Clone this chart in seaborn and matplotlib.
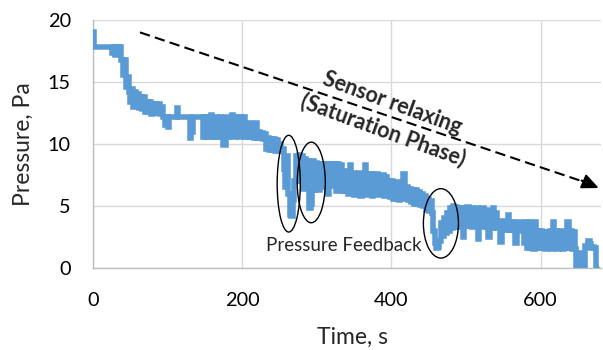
import numpy as np
import pandas as pd
import matplotlib
matplotlib.use("Agg")
import matplotlib.pyplot as plt
from matplotlib.patches import Ellipse
import seaborn as sns

sample_step_s = 2
pressure_pa = [
    19.0, 17.8, 17.8, 17.8, 17.8, 17.8, 17.8, 17.8, 17.8, 17.8, 17.8, 17.8, 17.8, 17.3, 17.8, 17.2, 17.8, 17.3, 17.8, 16.8,
    15.6, 16.8, 14.6, 15.4, 14.2, 13.4, 14.4, 13.0, 14.2, 13.1, 14.0, 12.9, 13.8, 12.8, 13.8, 12.6, 13.4, 12.6, 13.4, 12.4,
    13.2, 12.5, 13.2, 12.5, 13.2, 12.4, 13.0, 12.2, 11.5, 12.2, 11.4, 12.2, 12.2, 12.2, 12.2, 12.2, 12.9, 12.2, 12.2, 12.2,
    12.2, 12.2, 12.2, 12.2, 12.2, 10.5, 11.0, 12.2, 12.2, 12.2, 12.2, 12.2, 12.2, 12.2, 10.6, 12.2, 10.6, 12.2, 10.7, 12.3,
    10.6, 11.4, 10.6, 12.2, 10.7, 12.2, 10.6, 9.9, 9.9, 12.2, 10.6, 11.4, 10.7, 12.3, 10.6, 12.2, 10.7, 12.2, 10.6, 12.2,
    10.7, 12.2, 10.6, 11.6, 10.6, 11.7, 10.6, 11.0, 10.5, 11.7, 10.5, 11.0, 10.5, 10.9, 10.4, 10.8, 9.6, 10.5, 9.5, 10.4,
    9.5, 10.4, 9.4, 10.3, 9.4, 10.0, 9.4, 9.6, 8.0, 6.5, 9.0, 6.0, 4.3, 4.2, 5.5, 7.0, 9.0, 8.4, 9.1, 7.0,
    9.0, 6.4, 8.8, 6.8, 8.6, 4.8, 5.2, 8.6, 6.3, 8.5, 6.8, 6.3, 8.4, 6.5, 8.4, 6.8, 8.4, 6.0, 8.4, 6.6,
    8.4, 7.2, 8.4, 6.2, 8.4, 6.6, 8.3, 6.2, 7.8, 6.2, 7.6, 6.0, 8.3, 6.1, 7.7, 5.9, 7.6, 6.0, 7.7, 5.8,
    7.6, 6.0, 8.3, 5.9, 7.6, 6.2, 7.6, 5.8, 7.5, 6.0, 7.6, 5.9, 7.4, 6.1, 7.5, 5.8, 7.3, 6.0, 7.0, 5.7,
    7.0, 5.6, 6.8, 5.6, 6.9, 5.5, 6.6, 5.6, 7.6, 5.7, 6.5, 5.5, 6.4, 5.3, 6.3, 5.2, 6.3, 5.2, 6.1, 5.1,
    6.0, 5.0, 5.8, 4.7, 5.6, 4.6, 5.4, 4.4, 3.0, 2.0, 1.6, 1.7, 2.2, 3.6, 2.6, 4.0, 2.8, 4.4, 3.0, 4.8,
    3.2, 5.0, 3.3, 4.9, 3.3, 4.8, 3.3, 4.8, 2.5, 4.8, 3.4, 4.9, 3.4, 4.8, 3.3, 4.7, 3.4, 4.8, 2.3, 4.7,
    3.4, 4.8, 3.3, 4.7, 3.3, 2.5, 4.6, 3.2, 4.8, 4.1, 4.4, 3.2, 3.8, 2.1, 3.7, 3.2, 3.8, 3.1, 4.3, 3.1,
    3.7, 3.1, 3.7, 2.0, 3.6, 3.1, 3.7, 3.0, 3.6, 2.0, 3.7, 1.6, 3.7, 1.6, 3.0, 1.5, 3.7, 1.6, 3.0, 1.6,
    3.0, 1.6, 2.9, 1.5, 2.9, 1.6, 3.0, 1.5, 3.7, 1.6, 3.0, 1.5, 2.9, 1.6, 3.0, 1.5, 2.9, 1.6, 3.7, 1.6,
    3.0, 1.5, 2.9, 1.5, 0.0, 0.0, 1.2, 0.0, 0.0, 0.0, 1.8, 1.7, 2.2, 1.9, 1.6, 1.7, 1.6, 0.0, 0.0,
]
time_s = np.arange(len(pressure_pa)) * sample_step_s

x_ticks = [0, 200, 400, 600]
y_ticks = [0, 5, 10, 15, 20]

# annotation geometry (data coordinates)
feedback_centers = [(262.4, 6.8), (292.6, 6.9), (466.4, 3.6)]
feedback_sizes = [(31, 7.8), (37.6, 6.5), (47, 5.6)]

df = pd.DataFrame({"Time, s": time_s, "Pressure, Pa": pressure_pa})

sns.set_style("white")
plt.rcParams["font.family"] = ["Lato", "DejaVu Sans"]

fig = plt.figure(figsize=(6.03, 3.5), dpi=100)
ax = fig.add_axes([93 / 603, 1 - 268 / 350, (601 - 93) / 603, 248 / 350])

sns.lineplot(data=df, x="Time, s", y="Pressure, Pa", ax=ax, color="#5B9BD5",
             linewidth=4.0, sort=False, estimator=None, zorder=3,
             drawstyle="steps-post", solid_joinstyle="miter")

ax.set_xlim(0, 681)
ax.set_ylim(0, 20)
ax.set_xticks(x_ticks)
ax.set_yticks(y_ticks)
ax.grid(True, color="#D9D9D9", linewidth=1.0)
ax.set_axisbelow(True)
for s in ["top", "right"]:
    ax.spines[s].set_visible(False)
for s in ["left", "bottom"]:
    ax.spines[s].set_color("#BFBFBF")
    ax.spines[s].set_linewidth(1.0)
ax.tick_params(axis="both", length=0, labelsize=14.3, colors="black")
ax.tick_params(axis="x", pad=17)
ax.tick_params(axis="y", pad=16)

ax.set_xlabel("Time, s", fontsize=16.5)
ax.set_ylabel("Pressure, Pa", fontsize=16.5)
ax.xaxis.label.set_va("center")
ax.yaxis.label.set_va("center")
ax.xaxis.set_label_coords(0.51, -0.278)
ax.yaxis.set_label_coords(-0.137, 0.5)

# dashed trend arrow
ax.plot([63, 658], [19.0, 6.95], color="black", lw=1.5, ls=(0, (5, 2.5)),
        clip_on=False, zorder=4)
ax.annotate("", xy=(678, 6.45), xytext=(655, 7.05),
            arrowprops=dict(arrowstyle="-|>,head_length=1.0,head_width=0.45",
                            color="black", lw=1.5, shrinkA=0, shrinkB=0),
            annotation_clip=False, zorder=4)
ax.text(395, 12.2, "Sensor relaxing\n(Saturation Phase)", fontsize=15.5,
        fontweight="bold", rotation=-20, rotation_mode="anchor",
        ha="center", va="center", linespacing=1.35, zorder=5)

for (cx, cy), (w, h) in zip(feedback_centers, feedback_sizes):
    ax.add_patch(Ellipse((cx, cy), w, h, fill=False, edgecolor="black",
                         linewidth=1.0, zorder=5))
ax.text(335.6, 1.85, "Pressure Feedback", fontsize=13.5, ha="center",
        va="center", zorder=5)

fig.savefig("out.png", dpi=100)
